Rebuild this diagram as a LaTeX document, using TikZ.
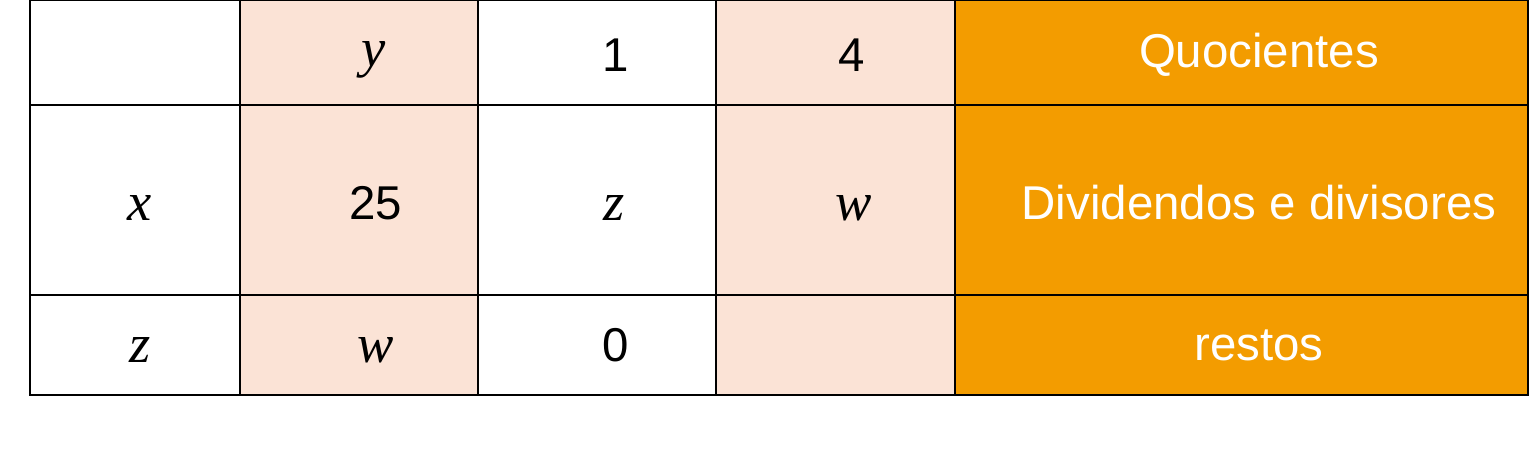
\documentclass[tikz,border=0pt]{standalone}
\usepackage{fontspec}
\setmainfont{Liberation Sans}
\newfontfamily\mathserif{Liberation Serif}
\definecolor{cellpink}{HTML}{FBE3D6}
\definecolor{cellorange}{HTML}{F39C00}
\tikzset{
  txt/.style={font=\fontsize{27}{31}\selectfont},
  var/.style={font=\mathserif\itshape\fontsize{31}{35}\selectfont, yshift=-3pt},
  lbl/.style={txt, text=white}
}
\begin{document}
\begin{tikzpicture}[x=0.02cm,y=-0.02cm]
\useasboundingbox (0,0) rectangle (1529,454);
\fill [cellpink] (240,0) rectangle (478,395);
\fill [cellpink] (716,0) rectangle (955,395);
\fill [cellorange] (955,0) rectangle (1528,395);
\draw [line width=1.1pt] (30,0) rectangle (1528,395);
\draw [line width=1.1pt] (30,105) -- (1528,105);
\draw [line width=1.1pt] (30,295) -- (1528,295);
\foreach \cx in {240,478,716,955}
  \draw [line width=1.1pt] (\cx,0) -- (\cx,395);
% first row
\node [var] (y1) at(374,55) {y};
\node [txt] (q1) at(616,55) {1};
\node [txt] (q4) at(852,55) {4};
\node [lbl] (quo) at(1259,55) {Quocientes};
% second row
\node [var] (x2) at(140,203) {x};
\node [txt] (d25) at(376,203) {25};
\node [var] (z2) at(614,203) {z};
\node [var] (w2) at(854,203) {w};
\node [lbl] (div) at(1259,203) {Dividendos e divisores};
% third row
\node [var] (z3) at(140,345) {z};
\node [var] (w3) at(376,345) {w};
\node [txt] (r0) at(616,345) {0};
\node [lbl] (res) at(1259,345) {restos};
\end{tikzpicture}
\end{document}
